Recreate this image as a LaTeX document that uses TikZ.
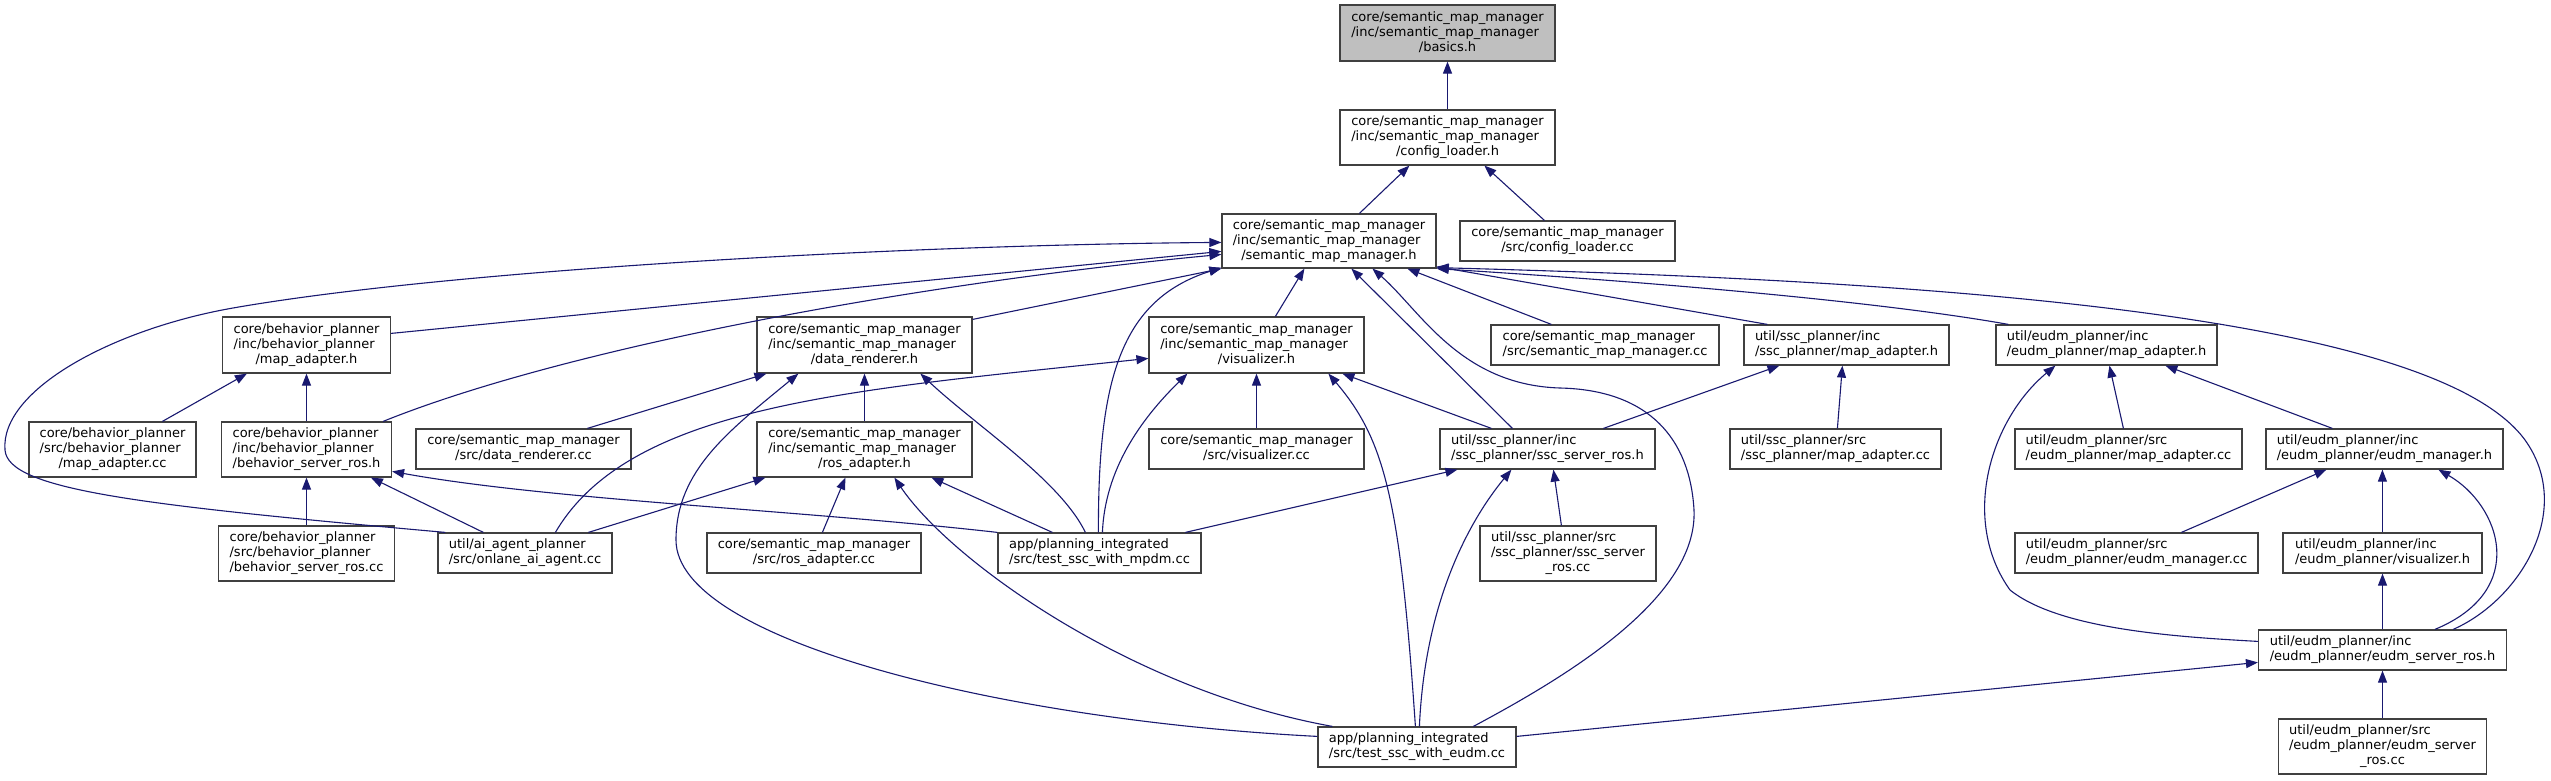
\documentclass[tikz,border=0pt]{standalone}
\usepackage{fontspec}
\setmainfont{DejaVu Sans}
\usetikzlibrary{arrows.meta,calc}
\definecolor{edgec}{RGB}{25,25,112}
\definecolor{boxc}{RGB}{64,64,64}
\definecolor{rootc}{RGB}{191,191,191}
\newcommand\dxl[2]{\begin{tabular}{@{}l@{}}#1\\\multicolumn{1}{@{}c@{}}{#2}\end{tabular}}
\begin{document}
\begin{tikzpicture}[x=1pt,y=-1pt,
  box/.style 2 args={draw=boxc,line width=1.2pt,fill=white,inner sep=0pt,
    font=\fontsize{13}{15}\selectfont,minimum width=#1,minimum height=#2},
  lnk/.style={draw=edgec,line width=1.1pt,{Triangle[length=12pt,width=9pt]}-}]
\useasboundingbox (0,0) rectangle (2551,780);
\fill[white] (0,0) rectangle (2551,780);
% nodes
\node[box={215}{56},fill=rootc] (basics) at (1447.5,33) {\dxl{core/semantic\_map\_manager\\/inc/semantic\_map\_manager}{/basics.h}};
\node[box={215}{55}] (cfgh) at (1447.5,137.5) {\dxl{core/semantic\_map\_manager\\/inc/semantic\_map\_manager}{/config\_loader.h}};
\node[box={215}{40}] (cfgcc) at (1567.5,241) {\dxl{core/semantic\_map\_manager}{/src/config\_loader.cc}};
\node[box={214}{54}] (smm) at (1329,241) {\dxl{core/semantic\_map\_manager\\/inc/semantic\_map\_manager}{/semantic\_map\_manager.h}};
\node[box={168}{56}] (bmaph) at (306.5,345) {\dxl{core/behavior\_planner\\/inc/behavior\_planner}{/map\_adapter.h}};
\node[box={167}{55}] (bmapcc) at (112.5,449.5) {\dxl{core/behavior\_planner\\/src/behavior\_planner}{/map\_adapter.cc}};
\node[box={170}{55}] (bsrh) at (306.5,449.5) {\dxl{core/behavior\_planner\\/inc/behavior\_planner}{/behavior\_server\_ros.h}};
\node[box={215}{40}] (drcc) at (523.5,449) {\dxl{core/semantic\_map\_manager}{/src/data\_renderer.cc}};
\node[box={215}{56}] (drh) at (864.5,345) {\dxl{core/semantic\_map\_manager\\/inc/semantic\_map\_manager}{/data\_renderer.h}};
\node[box={215}{55}] (rosh) at (864.5,449.5) {\dxl{core/semantic\_map\_manager\\/inc/semantic\_map\_manager}{/ros\_adapter.h}};
\node[box={215}{56}] (vish) at (1256.5,345) {\dxl{core/semantic\_map\_manager\\/inc/semantic\_map\_manager}{/visualizer.h}};
\node[box={215}{40}] (viscc) at (1256.5,449) {\dxl{core/semantic\_map\_manager}{/src/visualizer.cc}};
\node[box={228}{40}] (smmcc) at (1605,345) {\dxl{core/semantic\_map\_manager}{/src/semantic\_map\_manager.cc}};
\node[box={205}{40}] (sscmaph) at (1846.5,345) {\dxl{util/ssc\_planner/inc}{/ssc\_planner/map\_adapter.h}};
\node[box={221}{40}] (eudmmaph) at (2106.5,345) {\dxl{util/eudm\_planner/inc}{/eudm\_planner/map\_adapter.h}};
\node[box={215}{40}] (sscsrh) at (1547.5,449) {\dxl{util/ssc\_planner/inc}{/ssc\_planner/ssc\_server\_ros.h}};
\node[box={211}{40}] (sscmapcc) at (1835.5,449) {\dxl{util/ssc\_planner/src}{/ssc\_planner/map\_adapter.cc}};
\node[box={227}{40}] (eudmmapcc) at (2128.5,449) {\dxl{util/eudm\_planner/src}{/eudm\_planner/map\_adapter.cc}};
\node[box={237}{40}] (eudmmgrh) at (2384.5,449) {\dxl{util/eudm\_planner/inc}{/eudm\_planner/eudm\_manager.h}};
\node[box={176}{55}] (bsrcc) at (306.5,553.5) {\dxl{core/behavior\_planner\\/src/behavior\_planner}{/behavior\_server\_ros.cc}};
\node[box={174}{40}] (onlane) at (525,553) {\dxl{util/ai\_agent\_planner}{/src/onlane\_ai\_agent.cc}};
\node[box={214}{40}] (roscc) at (814,553) {\dxl{core/semantic\_map\_manager}{/src/ros\_adapter.cc}};
\node[box={203}{40}] (mpdm) at (1099.5,553) {\dxl{app/planning\_integrated}{/src/test\_ssc\_with\_mpdm.cc}};
\node[box={176}{55}] (ssccc) at (1568,553.5) {\dxl{util/ssc\_planner/src\\/ssc\_planner/ssc\_server}{\_ros.cc}};
\node[box={243}{40}] (eudmmgrcc) at (2136.5,553) {\dxl{util/eudm\_planner/src}{/eudm\_planner/eudm\_manager.cc}};
\node[box={199}{40}] (eudmvish) at (2382.5,553) {\dxl{util/eudm\_planner/inc}{/eudm\_planner/visualizer.h}};
\node[box={248}{40}] (eudmsrh) at (2382.5,650) {\dxl{util/eudm\_planner/inc}{/eudm\_planner/eudm\_server\_ros.h}};
\node[box={208}{55}] (eudmsrcc) at (2382.5,746.5) {\dxl{util/eudm\_planner/src\\/eudm\_planner/eudm\_server}{\_ros.cc}};
\node[box={198}{40}] (eudmcc) at (1417,747) {\dxl{app/planning\_integrated}{/src/test\_ssc\_with\_eudm.cc}};
% edges
\draw[lnk] (basics) -- (cfgh);
\draw[lnk] ($(cfgh.south west)+(70,0)$) -- ($(smm.north west)+(138,0)$);
\draw[lnk] ($(cfgh.south west)+(145,0)$) -- ($(cfgcc.north west)+(85,0)$);
\draw[lnk] ($(smm.north west)+(0,38)$) -- ($(bmaph.north east)+(0,17)$);
\draw[lnk] ($(smm.north west)+(0,41)$) .. controls (900,285) and (560,350) .. ($(bsrh.north east)+(-9,0)$);
\draw[lnk] ($(smm.north west)+(0,29)$) .. controls (900,245) and (450,270) .. (233,308)
  .. controls (113,329) and (0,390) .. (5,450) .. controls (8,490) and (140,505) .. ($(onlane.north west)+(8,0)$);
\draw[lnk] (smm.south west) -- ($(drh.north east)+(0,3)$);
\draw[lnk] ($(smm.south west)+(83,0)$) -- ($(vish.north west)+(127,0)$);
\draw[lnk] ($(smm.south west)+(0,-1)$) .. controls (1120,300) and (1098,380) .. ($(mpdm.north west)+(101,0)$);
\draw[lnk] ($(smm.south west)+(130,0)$) -- ($(sscsrh.north west)+(73,0)$);
\draw[lnk] ($(smm.south west)+(151,0)$) .. controls (1420,310) and (1460,385) .. (1560,388)
  .. controls (1650,390) and (1690,440) .. (1694,510) .. controls (1698,600) and (1560,680) .. ($(eudmcc.north west)+(156,0)$);
\draw[lnk] ($(smm.south west)+(186,0)$) -- ($(smmcc.north west)+(61,0)$);
\draw[lnk] ($(smm.south east)+(0,-2)$) -- ($(sscmaph.north west)+(24,0)$);
\draw[lnk] (smm.south east) .. controls (1700,285) and (1900,305) .. ($(eudmmaph.north west)+(13,0)$);
\draw[lnk] ($(smm.south east)+(0,-1)$) .. controls (1900,280) and (2430,310) .. (2525,440)
  .. controls (2575,510) and (2520,600) .. ($(eudmsrh.north east)+(-54,0)$);
\draw[lnk] ($(bmaph.south west)+(25,0)$) -- ($(bmapcc.north west)+(134,0)$);
\draw[lnk] (bmaph) -- (bsrh);
\draw[lnk] (bsrh) -- (bsrcc);
\draw[lnk] ($(bsrh.south west)+(150,0)$) -- ($(onlane.north west)+(46,0)$);
\draw[lnk] ($(bsrh.north east)+(0,50)$) .. controls (550,500) and (800,510) .. (mpdm.north west);
\draw[lnk] ($(drh.south west)+(10,0)$) -- ($(drcc.north west)+(172,0)$);
\draw[lnk] (drh) -- (rosh);
\draw[lnk] ($(drh.south west)+(164,0)$) .. controls (975,425) and (1060,480) .. ($(mpdm.north west)+(88,0)$);
\draw[lnk] ($(drh.south west)+(42,0)$) .. controls (730,430) and (676,470) .. (676,540)
  .. controls (676,640) and (1000,720) .. ($(eudmcc.north west)+(0,10)$);
\draw[lnk] ($(vish.north west)+(0,42)$) .. controls (850,390) and (630,405) .. ($(onlane.north west)+(118,0)$);
\draw[lnk] (vish) -- (viscc);
\draw[lnk] ($(vish.south west)+(39,0)$) .. controls (1140,420) and (1105,470) .. ($(mpdm.north west)+(105,0)$);
\draw[lnk] ($(vish.south west)+(194,0)$) -- ($(sscsrh.north west)+(52,0)$);
\draw[lnk] ($(vish.south west)+(180,0)$) .. controls (1385,440) and (1400,500) .. ($(eudmcc.north west)+(98,0)$);
\draw[lnk] ($(rosh.south west)+(9,0)$) -- ($(onlane.north west)+(151,0)$);
\draw[lnk] ($(rosh.south west)+(89,0)$) -- ($(roscc.north west)+(116,0)$);
\draw[lnk] ($(rosh.south west)+(138,0)$) .. controls (950,560) and (1130,690) .. ($(eudmcc.north west)+(15,0)$);
\draw[lnk] ($(rosh.south west)+(175,0)$) -- ($(mpdm.north west)+(55,0)$);
\draw[lnk] ($(sscsrh.south west)+(18,0)$) -- ($(mpdm.north west)+(188,0)$);
\draw[lnk] ($(sscsrh.south west)+(72,0)$) .. controls (1470,520) and (1425,600) .. ($(eudmcc.north west)+(102,0)$);
\draw[lnk] ($(sscsrh.south west)+(114,0)$) -- ($(ssccc.north west)+(82,0)$);
\draw[lnk] ($(sscmaph.south west)+(36,0)$) -- ($(sscsrh.north west)+(164,0)$);
\draw[lnk] ($(sscmaph.south west)+(99,0)$) -- ($(sscmapcc.north west)+(108,0)$);
\draw[lnk] ($(eudmmaph.south west)+(60,0)$) .. controls (1990,420) and (1960,520) .. (2010,590)
  .. controls (2060,630) and (2180,637) .. ($(eudmsrh.north west)+(0,12)$);
\draw[lnk] ($(eudmmaph.south west)+(114,0)$) -- ($(eudmmapcc.north west)+(109,0)$);
\draw[lnk] ($(eudmmaph.south west)+(170,0)$) -- ($(eudmmgrh.north west)+(67,0)$);
\draw[lnk] ($(eudmmgrh.south west)+(61,0)$) -- ($(eudmmgrcc.north west)+(167,0)$);
\draw[lnk] ($(eudmmgrh.south west)+(117,0)$) -- ($(eudmvish.north west)+(100,0)$);
\draw[lnk] ($(eudmmgrh.south west)+(173,0)$) .. controls (2500,505) and (2530,590) .. ($(eudmsrh.north west)+(177,0)$);
\draw[lnk] (eudmvish) -- (eudmsrh);
\draw[lnk] (eudmsrh) -- (eudmsrcc);
\draw[lnk] ($(eudmsrh.north west)+(0,33)$) -- ($(eudmcc.north east)+(0,10)$);
\end{tikzpicture}
\end{document}
